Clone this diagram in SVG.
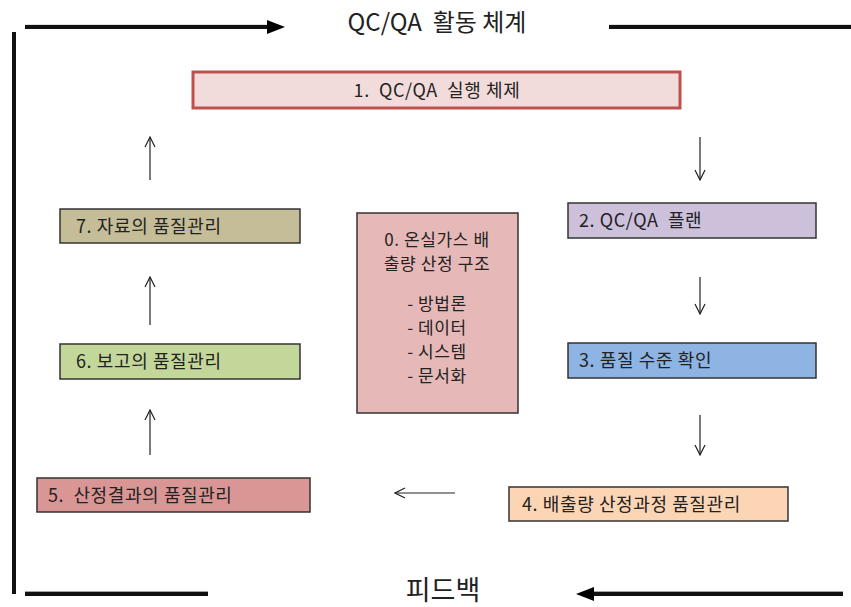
<svg xmlns="http://www.w3.org/2000/svg" width="851" height="607" viewBox="0 0 851 607">
<style>
text{font-family:"Malgun Gothic","Noto Sans CJK KR","Noto Sans",sans-serif;fill:#222;white-space:pre;}
.n{font-size:18px;letter-spacing:0.6px;}
.m{font-size:17px;letter-spacing:0.6px;text-anchor:middle;}
.c{text-anchor:middle;}
.frame{stroke:#111;stroke-width:4;fill:none;}
.shade{stroke:#888;stroke-width:1.5;fill:none;}
.thin{stroke:#222;stroke-width:1.2;fill:none;marker-end:url(#open);}
.box{stroke:#333;stroke-width:1.5;}
</style>
<defs>
<marker id="open" viewBox="0 0 12 12" refX="11" refY="6" markerWidth="12" markerHeight="12" markerUnits="userSpaceOnUse" orient="auto">
<path d="M1,1 L11,6 L1,11" fill="none" stroke="#222" stroke-width="1.2"/>
</marker>
</defs>
<rect width="851" height="607" fill="#fff"/>
<g id="connectors">
<line class="shade" x1="25" y1="25.5" x2="270" y2="25.5"/>
<line class="frame" x1="25" y1="27" x2="270" y2="27"/>
<path d="M267,20 L285,27 L267,34 z" fill="#000"/>
<line class="shade" x1="609" y1="25.5" x2="851" y2="25.5"/>
<line class="frame" x1="609" y1="27" x2="851" y2="27"/>
<line class="frame" x1="14" y1="32" x2="14" y2="594"/>
<line class="shade" x1="25" y1="592" x2="208" y2="592"/>
<line class="frame" x1="25" y1="594" x2="208" y2="594"/>
<line class="shade" x1="590" y1="592" x2="843" y2="592"/>
<line class="frame" x1="590" y1="594" x2="843" y2="594"/>
<path d="M594,587 L576,594 L594,601 z" fill="#000"/>
<line class="thin" x1="150" y1="180" x2="150" y2="137"/>
<line class="thin" x1="150" y1="325" x2="150" y2="277"/>
<line class="thin" x1="150" y1="455" x2="150" y2="410"/>
<line class="thin" x1="700" y1="137" x2="700" y2="180"/>
<line class="thin" x1="700" y1="277" x2="700" y2="314"/>
<line class="thin" x1="700" y1="415" x2="700" y2="455"/>
<line class="thin" x1="455" y1="493" x2="395" y2="493"/>
</g>
<text x="437" y="31" class="c" font-size="24">QC/QA  활동 체계</text>
<text x="443" y="600" class="c" font-size="27">피드백</text>
<g id="n1">
<rect x="193" y="72" width="487" height="36" fill="#F2DCDB" stroke="#C0504D" stroke-width="3"/>
<text x="437" y="97" class="n c">1.  QC/QA  실행 체제</text>
</g>
<g id="n2">
<rect x="568" y="203" width="248" height="35" fill="#CCC0DA" class="box"/>
<text x="579" y="227" class="n">2. QC/QA  플랜</text>
</g>
<g id="n3">
<rect x="568" y="343" width="248" height="35" fill="#8DB4E2" class="box"/>
<text x="579" y="367" class="n">3. 품질 수준 확인</text>
</g>
<g id="n4">
<rect x="509" y="487" width="279" height="34" fill="#FCD5B4" class="box"/>
<text x="522" y="511" class="n">4. 배출량 산정과정 품질관리</text>
</g>
<g id="n5">
<rect x="37" y="478" width="273" height="34" fill="#DA9694" class="box"/>
<text x="48" y="502" class="n">5.  산정결과의 품질관리</text>
</g>
<g id="n6">
<rect x="60" y="344" width="240" height="35" fill="#C4D79B" class="box"/>
<text x="76" y="368" class="n">6. 보고의 품질관리</text>
</g>
<g id="n7">
<rect x="60" y="209" width="240" height="34" fill="#C4BD97" class="box"/>
<text x="76" y="233" class="n">7. 자료의 품질관리</text>
</g>
<g id="n0">
<rect x="357" y="213" width="161" height="200" fill="#E6B9B8" class="box"/>
<text x="437" y="246" class="m">0. 온실가스 배</text>
<text x="437" y="270" class="m">출량 산정 구조</text>
<text x="437" y="310" class="m">- 방법론</text>
<text x="437" y="334" class="m">- 데이터</text>
<text x="437" y="358" class="m">- 시스템</text>
<text x="437" y="382" class="m">- 문서화</text>
</g>
</svg>
